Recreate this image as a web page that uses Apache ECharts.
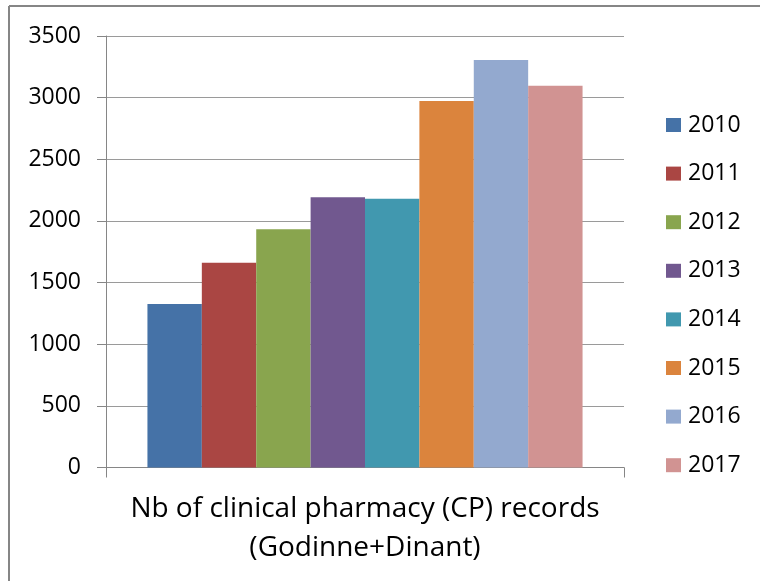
<!DOCTYPE html>
<html>
<head>
<meta charset="utf-8">
<script src="https://cdn.jsdelivr.net/npm/echarts@6/dist/echarts.min.js"></script>
<style>html,body{margin:0;padding:0;background:#fff}#c{width:760px;height:581px}</style>
</head>
<body>
<div id="c"></div>
<script>
const years = ['2010','2011','2012','2013','2014','2015','2016','2017'];
const records = [1326, 1661, 1932, 2192, 2180, 2973, 3305, 3097];
const yTicks = [0, 500, 1000, 1500, 2000, 2500, 3000, 3500];
const categories = [''];
const xTitle = 'Nb of clinical pharmacy (CP) records\n(Godinne+Dinant)';
const palette = ['#4572A7','#AA4643','#89A54E','#71588F','#4198AF','#DB843D','#93A9CF','#D19392'];

const font = '"Open Sans", Lato, sans-serif';
const chart = echarts.init(document.getElementById('c'));
chart.setOption({
  animation: false,
  backgroundColor: '#fff',
  graphic: [
    {type:'line', shape:{x1:9, y1:6, x2:760, y2:6}, style:{stroke:'#868686', lineWidth:2}},
    {type:'line', shape:{x1:9, y1:6, x2:9, y2:581}, style:{stroke:'#868686', lineWidth:2}}
  ],
  grid: {left:106, right:136, top:36, bottom:113.5, containLabel:false},
  legend: {
    orient:'vertical', left:666, top:113.5, padding:0, itemWidth:15, itemHeight:14, itemGap:25.6,
    icon:'rect', data: years,
    textStyle:{fontFamily:font, fontSize:23, color:'#000', padding:[0,0,0,2]}
  },
  xAxis: {
    type:'category', data: categories,
    axisLine:{lineStyle:{color:'#868686', width:1}},
    axisTick:{show:true, length:10, lineStyle:{color:'#868686'}},
    axisLabel:{show:false},
    name: xTitle, nameLocation:'middle', nameGap:22,
    nameTextStyle:{fontFamily:font, fontSize:28, color:'#000', lineHeight:39, verticalAlign:'top'}
  },
  yAxis: {
    type:'value', min:yTicks[0], max:yTicks[yTicks.length-1], interval:yTicks[1]-yTicks[0],
    axisLine:{show:true, lineStyle:{color:'#868686'}},
    axisTick:{show:true, length:9, lineStyle:{color:'#868686'}},
    axisLabel:{fontFamily:font, fontSize:23, color:'#000', margin:25, formatter: v => String(v)},
    splitLine:{lineStyle:{color:'#9a9a9a', width:1}}
  },
  series: years.map((y,i)=>({
    type:'bar', name:y, data:[records[i]],
    itemStyle:{color:palette[i]},
    barGap:'0%', barCategoryGap:'16%'
  }))
});
</script>
</body>
</html>
